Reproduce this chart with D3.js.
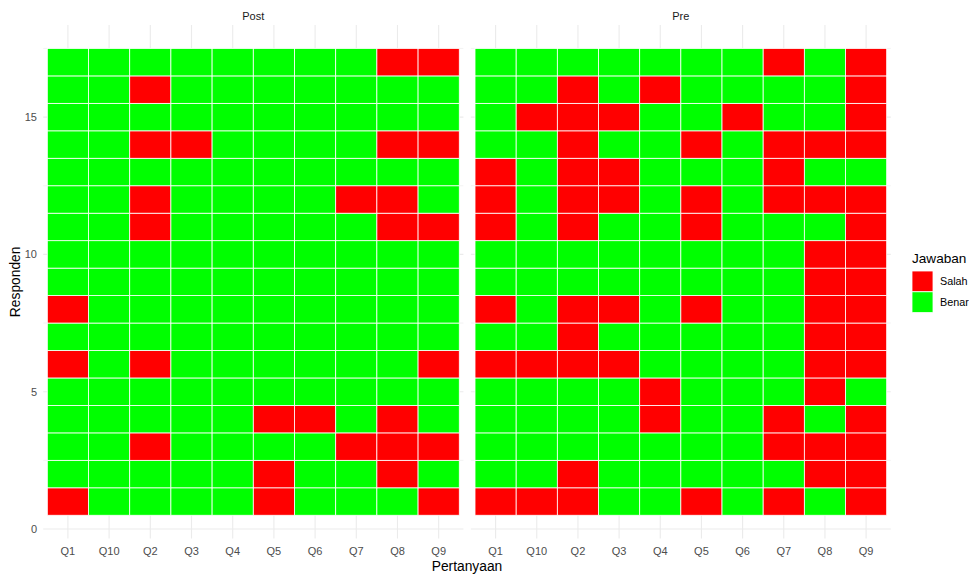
<!DOCTYPE html>
<html>
<head>
<meta charset="utf-8">
<script src="https://cdn.jsdelivr.net/npm/d3@7"></script>
<style>
  body { margin: 0; background: #fff; }
  svg text { font-family: "Liberation Sans", Arial, sans-serif; }
</style>
</head>
<body>
<div id="chart"></div>
<script>
// --- Data: one string per responden (1..17), one char per question, S = Salah, B = Benar
const questions = ["Q1", "Q10", "Q2", "Q3", "Q4", "Q5", "Q6", "Q7", "Q8", "Q9"];
const facets = ["Post", "Pre"];
const yTicks = [0, 5, 10, 15];

const postAnswers = [
  "SBBBBSBBBS", "BBBBBSBBSB", "BBSBBBBSSS", "BBBBBSSBSB", "BBBBBBBBBB",
  "SBSBBBBBBS", "BBBBBBBBBB", "SBBBBBBBBB", "BBBBBBBBBB", "BBBBBBBBBB",
  "BBSBBBBBSS", "BBSBBBBSSB", "BBBBBBBBBB", "BBSSBBBBSS", "BBBBBBBBBB",
  "BBSBBBBBBB", "BBBBBBBBSS"
];
const preAnswers = [
  "SSSBBSBSBS", "BBSBBBBBSS", "BBBBBBBSSS", "BBBBSBBSBS", "BBBBSBBBSB",
  "SSSSBBBBSS", "BBSBBBBBSS", "SBSSBSBBSS", "BBBBBBBBSS", "BBBBBBBBSS",
  "SBSBBSBBBS", "SBSSBSBSSS", "SBSSBBBSBB", "BBSBBSBSSS", "BSSSBBSBBS",
  "BBSBSBBBBS", "BBBBBBBSBS"
];

const jawaban = ["Salah", "Benar"];
const colors = { Salah: "#FF0000", Benar: "#00FF00" };

(function () {
  const W = 969, H = 574;
  const svg = d3.select("#chart").append("svg")
    .attr("width", W).attr("height", H);

  // long format rows
  function toRows(facet, answers) {
    const out = [];
    answers.forEach((s, i) => {
      questions.forEach((q, j) => {
        out.push({ facet, q, r: i + 1, val: s[j] === "S" ? "Salah" : "Benar" });
      });
    });
    return out;
  }
  const data = toRows("Post", postAnswers).concat(toRows("Pre", preAnswers));

  // panels
  const panels = { Post: [43.2, 463.4], Pre: [470.9, 890.8] };
  const y = d3.scaleLinear().domain([-0.35, 18.35]).range([538.6, 25.1]);
  const color = d3.scaleOrdinal().domain(jawaban).range(jawaban.map(k => colors[k]));

  facets.forEach(f => {
    const [x0, x1] = panels[f];
    const x = d3.scaleBand().domain(questions).range([x0, x1])
      .paddingInner(0).paddingOuter(0.1);
    const g = svg.append("g");

    // minor gridlines
    g.selectAll("line.minor").data([2.5, 7.5, 12.5, 17.5]).join("line")
      .attr("x1", x0).attr("x2", x1)
      .attr("y1", d => y(d)).attr("y2", d => y(d))
      .attr("stroke", "#EBEBEB").attr("stroke-width", 0.6);
    // major gridlines
    g.selectAll("line.majy").data(yTicks).join("line")
      .attr("x1", x0).attr("x2", x1)
      .attr("y1", d => y(d)).attr("y2", d => y(d))
      .attr("stroke", "#EBEBEB").attr("stroke-width", 1.1);
    g.selectAll("line.majx").data(questions).join("line")
      .attr("x1", d => x(d) + x.bandwidth() / 2).attr("x2", d => x(d) + x.bandwidth() / 2)
      .attr("y1", y.range()[1]).attr("y2", y.range()[0])
      .attr("stroke", "#EBEBEB").attr("stroke-width", 1.1);

    // tiles
    g.selectAll("rect.tile").data(data.filter(d => d.facet === f)).join("rect")
      .attr("class", "tile")
      .attr("x", d => x(d.q))
      .attr("width", x.bandwidth())
      .attr("y", d => y(d.r + 0.5))
      .attr("height", d => y(d.r - 0.5) - y(d.r + 0.5))
      .attr("fill", d => color(d.val))
      .attr("stroke", "#fff").attr("stroke-width", 0.8);

    // strip label
    svg.append("text")
      .attr("x", (x0 + x1) / 2).attr("y", 20)
      .attr("text-anchor", "middle")
      .attr("font-size", 11).attr("fill", "#1A1A1A")
      .text(f);

    // x tick labels
    g.selectAll("text.xt").data(questions).join("text")
      .attr("x", d => x(d) + x.bandwidth() / 2).attr("y", 555)
      .attr("text-anchor", "middle")
      .attr("font-size", 11).attr("fill", "#4D4D4D")
      .text(d => d);
  });

  // y tick labels
  svg.selectAll("text.yt").data(yTicks).join("text")
    .attr("x", 37).attr("y", d => y(d) + 4)
    .attr("text-anchor", "end")
    .attr("font-size", 11).attr("fill", "#4D4D4D")
    .text(d => d);

  // axis titles
  svg.append("text")
    .attr("x", 467).attr("y", 571)
    .attr("text-anchor", "middle")
    .attr("font-size", 13.8).attr("fill", "#000")
    .text("Pertanyaan");
  svg.append("text")
    .attr("transform", `translate(20, ${(y.range()[0] + y.range()[1]) / 2}) rotate(-90)`)
    .attr("text-anchor", "middle")
    .attr("font-size", 13.8).attr("fill", "#000")
    .text("Responden");

  // legend
  const lg = svg.append("g").attr("transform", "translate(912, 0)");
  lg.append("text").attr("x", 0).attr("y", 263)
    .attr("font-size", 13.6).attr("fill", "#000").text("Jawaban");
  jawaban.forEach((k, i) => {
    lg.append("rect")
      .attr("x", 0).attr("y", 271 + i * 20.8)
      .attr("width", 21).attr("height", 20.8)
      .attr("fill", color(k)).attr("stroke", "#fff").attr("stroke-width", 0.8);
    lg.append("text")
      .attr("x", 28).attr("y", 271 + i * 20.8 + 14.2)
      .attr("font-size", 10.8).attr("fill", "#000").text(k);
  });
})();
</script>
</body>
</html>
